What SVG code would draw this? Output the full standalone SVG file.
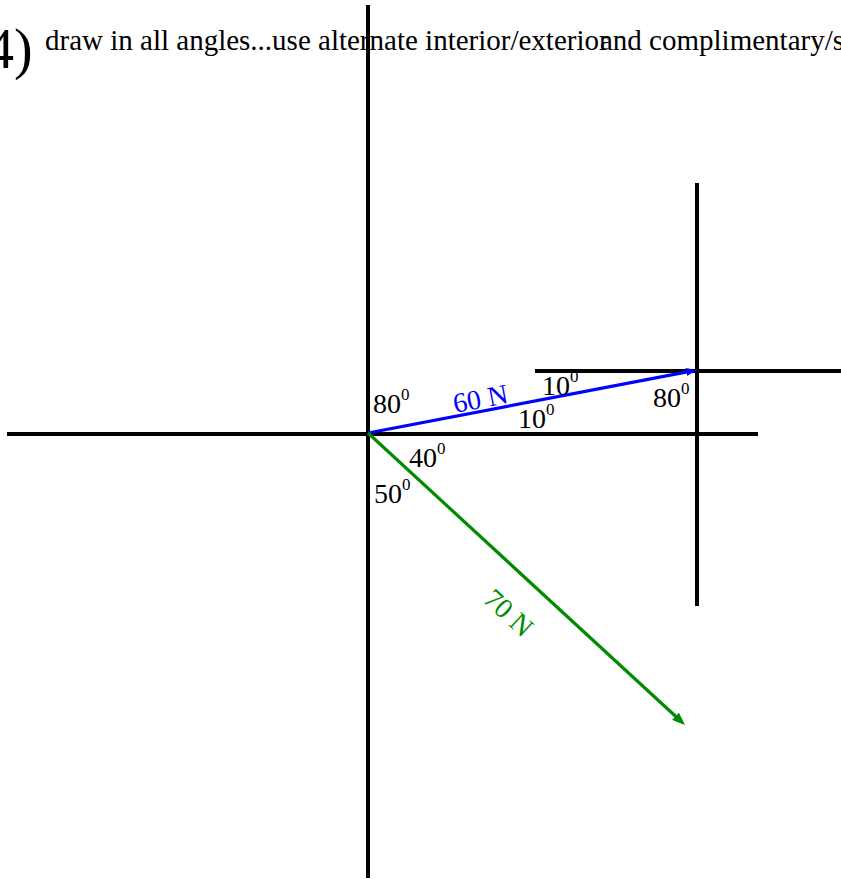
<svg xmlns="http://www.w3.org/2000/svg" width="841" height="879" viewBox="0 0 841 879">
<style>
.ax{stroke:#000;stroke-width:4;fill:none}
.f{font-family:"Liberation Serif","Times New Roman",serif}
.t{font-family:"Liberation Serif","Times New Roman",serif;font-size:28px;fill:#000}
.s{font-size:17px}
</style>
<defs>
<marker id="mb" viewBox="0 0 11 8" refX="5" refY="4" markerWidth="11" markerHeight="8" orient="auto" markerUnits="userSpaceOnUse"><path d="M0,0L11,4L0,8z" fill="#0000ff"/></marker>
<marker id="mg" viewBox="0 0 13 10" refX="6" refY="5" markerWidth="13" markerHeight="10" orient="auto" markerUnits="userSpaceOnUse"><path d="M0,0L13,5L0,10z" fill="#008c00"/></marker>
</defs>
<rect width="841" height="879" fill="#fff"/>
<g id="title">
<text class="f" x="-14" y="68" font-size="56">4)</text>
<text class="f" x="45" y="50" font-size="29">draw in all angles...use alternate interior/exterior</text>
<text class="f" x="600" y="50" font-size="29">and complimentary/s</text>
</g>
<g id="axes">
<line class="ax" x1="368" y1="5" x2="368" y2="878"/>
<line class="ax" x1="7" y1="434" x2="758" y2="434"/>
<line class="ax" x1="697" y1="183" x2="697" y2="606"/>
<line class="ax" x1="535" y1="371" x2="841" y2="371"/>
</g>
<g id="connectors">
<line id="blue" x1="368" y1="433" x2="691.1" y2="371.1" stroke="#0000ff" stroke-width="3.2" marker-end="url(#mb)"/>
<line id="green" x1="368" y1="433" x2="679.9" y2="720.3" stroke="#008c00" stroke-width="3.2" marker-end="url(#mg)"/>
</g>
<g id="labels">
<text class="t" x="373" y="413">80<tspan class="s" dy="-13">0</tspan></text>
<text class="t" x="542" y="395">10<tspan class="s" dy="-13">0</tspan></text>
<text class="t" x="518" y="428">10<tspan class="s" dy="-13">0</tspan></text>
<text class="t" x="653" y="407">80<tspan class="s" dy="-13">0</tspan></text>
<text class="t" x="409" y="467">40<tspan class="s" dy="-13">0</tspan></text>
<text class="t" x="374" y="503">50<tspan class="s" dy="-13">0</tspan></text>
<text class="f" x="455" y="413" font-size="28" fill="#0000ff" transform="rotate(-10.8 455 413)">60 N</text>
<text class="f" x="482" y="601" font-size="28" fill="#008c00" transform="rotate(42.6 482 601)">70 N</text>
</g>
</svg>
